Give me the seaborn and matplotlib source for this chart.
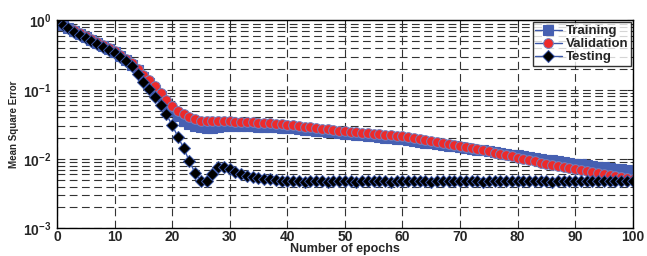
import numpy as np
import matplotlib
matplotlib.use('Agg')
import matplotlib.pyplot as plt
import matplotlib.ticker as mticker
import seaborn as sns

# ---- data (epochs 0..100) ----
epochs = list(range(0, 101))

training = [
    0.95, 0.86, 0.78, 0.71, 0.64, 0.58, 0.53, 0.48, 0.43, 0.39,
    0.35, 0.31, 0.27, 0.23, 0.19, 0.155, 0.125, 0.100, 0.080, 0.063,
    0.050, 0.042, 0.036, 0.032, 0.030, 0.029, 0.028, 0.028, 0.029, 0.030,
    0.0300, 0.0299, 0.0298, 0.0297, 0.0296, 0.0295, 0.0293, 0.0290, 0.0287, 0.0284,
    0.0281, 0.0277, 0.0272, 0.0267, 0.0262, 0.0257, 0.0252, 0.0247, 0.0242, 0.0237,
    0.0232, 0.0228, 0.0224, 0.0220, 0.0216, 0.0212, 0.0208, 0.0204, 0.0200, 0.0196,
    0.0192, 0.0187, 0.0182, 0.0177, 0.0173, 0.0168, 0.0164, 0.0160, 0.0156, 0.0152,
    0.0148, 0.0144, 0.0140, 0.0136, 0.0133, 0.0129, 0.0126, 0.0122, 0.0119, 0.0116,
    0.0113, 0.0110, 0.0107, 0.0104, 0.0101, 0.0098, 0.0096, 0.0093, 0.0091, 0.0088,
    0.0086, 0.0084, 0.0082, 0.0080, 0.0078, 0.0076, 0.0074, 0.0072, 0.0071, 0.0069,
    0.0068,
]

validation = [
    0.96, 0.87, 0.79, 0.72, 0.65, 0.59, 0.54, 0.49, 0.44, 0.40,
    0.36, 0.32, 0.28, 0.24, 0.20, 0.165, 0.14, 0.112, 0.090, 0.072,
    0.058, 0.050, 0.044, 0.040, 0.038, 0.036, 0.035, 0.035, 0.035, 0.035,
    0.0350, 0.0347, 0.0344, 0.0341, 0.0338, 0.0335, 0.0331, 0.0327, 0.0322, 0.0317,
    0.0312, 0.0306, 0.0300, 0.0294, 0.0288, 0.0282, 0.0276, 0.0270, 0.0264, 0.0258,
    0.0252, 0.0248, 0.0244, 0.0240, 0.0236, 0.0232, 0.0228, 0.0224, 0.0220, 0.0217,
    0.0213, 0.0207, 0.0201, 0.0195, 0.0189, 0.0183, 0.0177, 0.0171, 0.0166, 0.0160,
    0.0155, 0.0149, 0.0144, 0.0139, 0.0134, 0.0129, 0.0124, 0.0119, 0.0114, 0.0109,
    0.0104, 0.0100, 0.0096, 0.0093, 0.0089, 0.0086, 0.0083, 0.0080, 0.0077, 0.0074,
    0.0072, 0.0069, 0.0067, 0.0065, 0.0063, 0.0061, 0.0059, 0.0057, 0.0055, 0.0054,
    0.0052,
]

testing = [
    0.96, 0.86, 0.77, 0.69, 0.62, 0.56, 0.51, 0.46, 0.41, 0.37,
    0.34, 0.30, 0.26, 0.22, 0.17, 0.13, 0.104, 0.079, 0.061, 0.044,
    0.031, 0.021, 0.0145, 0.0093, 0.0063, 0.0048, 0.0049, 0.0060, 0.0076, 0.0077,
    0.0071, 0.0065, 0.0060, 0.0057, 0.0055, 0.0053, 0.0052, 0.0051, 0.0050, 0.0049,
    0.0048, 0.0048, 0.0048, 0.0047, 0.0048, 0.0048, 0.0048, 0.0047, 0.0048, 0.0048,
    0.0048, 0.0048, 0.0047, 0.0048, 0.0048, 0.0048, 0.0048, 0.0048, 0.0047, 0.0048,
    0.0048, 0.0048, 0.0048, 0.0048, 0.0048, 0.0047, 0.0048, 0.0048, 0.0048, 0.0048,
    0.0048, 0.0048, 0.0048, 0.0048, 0.0047, 0.0048, 0.0048, 0.0048, 0.0048, 0.0048,
    0.0048, 0.0048, 0.0048, 0.0048, 0.0048, 0.0048, 0.0047, 0.0048, 0.0048, 0.0048,
    0.0048, 0.0048, 0.0048, 0.0048, 0.0048, 0.0048, 0.0048, 0.0048, 0.0048, 0.0048,
    0.0048,
]

series_names = ['Training', 'Validation', 'Testing']
x_ticks = [0, 10, 20, 30, 40, 50, 60, 70, 80, 90, 100]

# ---- style ----
sns.set_style('white')
plt.rcParams['font.family'] = ['Liberation Sans', 'DejaVu Sans']
plt.rcParams['font.weight'] = 'bold'
plt.rcParams['mathtext.fontset'] = 'custom'
plt.rcParams['mathtext.rm'] = 'Liberation Sans:bold'
plt.rcParams['mathtext.bf'] = 'Liberation Sans:bold'
plt.rcParams['mathtext.it'] = 'Liberation Sans:bold'

line_blue = '#3a56a8'
fill_blue = '#4660b2'
fill_red = '#ee2a2a'

fig = plt.figure(figsize=(6.47, 2.56), dpi=100)
ax = fig.add_axes([0.088, 0.108, 0.890, 0.812])

sns.lineplot(x=epochs, y=training, ax=ax, color=line_blue, lw=1.0,
             marker='s', markersize=6.5, markerfacecolor=fill_blue,
             markeredgecolor=fill_blue, markeredgewidth=0.8, label=series_names[0])
sns.lineplot(x=epochs, y=validation, ax=ax, color=line_blue, lw=1.0,
             marker='o', markersize=7, markerfacecolor=fill_red,
             markeredgecolor='#7080c0', markeredgewidth=0.7, label=series_names[1])
sns.lineplot(x=epochs, y=testing, ax=ax, color=line_blue, lw=1.0,
             marker='D', markersize=6, markerfacecolor='black',
             markeredgecolor=line_blue, markeredgewidth=0.7, label=series_names[2])

ax.set_yscale('log')
ax.set_xlim(0, 100)
ax.set_ylim(1e-3, 1)
ax.set_xticks(x_ticks)
ax.xaxis.set_minor_locator(mticker.NullLocator())
ax.yaxis.set_major_locator(mticker.LogLocator(base=10, numticks=10))
ax.yaxis.set_minor_locator(mticker.LogLocator(base=10, subs=np.arange(2, 10), numticks=10))
ax.yaxis.set_minor_formatter(mticker.NullFormatter())
ax.yaxis.set_major_formatter(mticker.FuncFormatter(lambda v, p: r'$\mathbf{10^{%d}}$' % round(np.log10(v))))

ax.grid(True, which='major', axis='both', color='#333333', lw=0.8, ls=(0, (7, 4)))
ax.grid(True, which='minor', axis='y', color='#333333', lw=0.8, ls=(0, (7, 4)))

ax.tick_params(which='both', direction='in', top=True, right=True, labelsize=10)
ax.tick_params(axis='x', pad=1.5)
ax.tick_params(axis='y', pad=4)
ax.tick_params(which='major', length=4, width=0.8)
ax.tick_params(which='minor', length=2, width=0.6)
for lab in ax.get_xticklabels():
    lab.set_fontweight('bold')
for sp in ax.spines.values():
    sp.set_color('black')
    sp.set_linewidth(1.0)

ax.set_xlabel('Number of epochs', fontsize=9, fontweight='bold', labelpad=-1)
ax.set_ylabel('Mean Square Error', fontsize=7, fontweight='bold', labelpad=3)

leg = ax.legend(loc='upper right', fontsize=9.5, frameon=True, fancybox=False,
                borderpad=0.2, labelspacing=0.05, handlelength=2.0, handletextpad=0.3,
                borderaxespad=0.15)
leg.get_frame().set_edgecolor('black')
leg.get_frame().set_linewidth(1.0)
for t in leg.get_texts():
    t.set_fontweight('bold')

fig.savefig('out.png', dpi=100)
